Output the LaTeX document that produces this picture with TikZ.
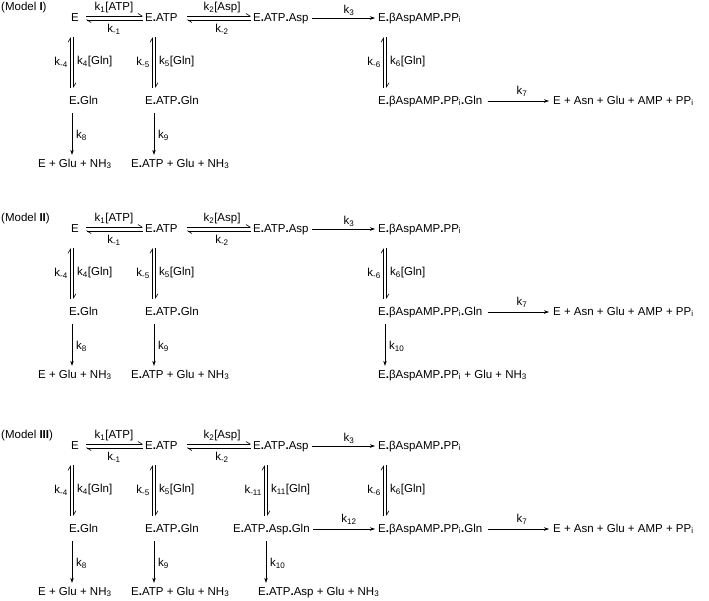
\documentclass[tikz,border=0pt]{standalone}
\usepackage{fontspec}
\setmainfont{Liberation Sans}
\usetikzlibrary{arrows.meta}
\newcommand\dt{\textbf{.}}
\newcommand\ks[1]{k\textsubscript{#1}}
\tikzset{
  tx/.style={inner sep=1pt,anchor=base west,text height=9pt,text depth=3pt,font=\fontsize{11.5}{13}\selectfont},
  lb/.style={inner sep=0pt,font=\fontsize{11.5}{13}\selectfont},
  fw/.style={line width=0.6pt,-{Straight Barb[left,length=4pt,width=5pt]}},
  one/.style={line width=0.6pt,-{Stealth[length=5pt,width=3.5pt]}},
  hz/.style={shorten <=6pt,shorten >=1pt},
  vt/.style={shorten <=12pt,shorten >=6pt},
  vtu/.style={shorten <=6pt,shorten >=12pt},
  dn/.style={shorten <=5pt,shorten >=2pt},
  rt/.style={shorten <=2pt,shorten >=2pt}
}
\newcommand\core[1]{%
  \node[lb,anchor=west] (lab) at (1,8) {(Model \textbf{#1})};
  \node[tx] (E) at (70,21) {E};
  \node[tx] (ATP) at (144,21) {E\dt ATP};
  \node[tx] (Asp) at (252,21) {E\dt ATP\dt Asp};
  \node[tx] (AMP) at (377,21) {E\dt βAspAMP\dt PP\textsubscript{i}};
  \node[tx] (Gln) at (68,104) {E\dt Gln};
  \node[tx] (ATPGln) at (144,104) {E\dt ATP\dt Gln};
  \node[tx] (AMPGln) at (377,104) {E\dt βAspAMP\dt PP\textsubscript{i}\dt Gln};
  \node[tx] (prod) at (552,104) {E + Asn + Glu + AMP + PP\textsubscript{i}};
  \node[tx] (b1) at (37,167) {E + Glu + NH\textsubscript{3}};
  \node[tx] (b2) at (130,167) {E\dt ATP + Glu + NH\textsubscript{3}};
  \coordinate (c1l) at (70.5,0); \coordinate (c1r) at (73.5,0);
  \coordinate (c2l) at (152.5,0); \coordinate (c2r) at (155.5,0);
  \coordinate (c4l) at (383.5,0); \coordinate (c4r) at (386.5,0);
  \coordinate (c1) at (72,0); \coordinate (c2) at (154,0); \coordinate (c4) at (385,0);
  % horizontal equilibria
  \draw[fw,hz] ([yshift=2pt]E.east) -- ([yshift=2pt]ATP.west);
  \draw[fw,hz,shorten <=1pt,shorten >=6pt] ([yshift=-2pt]ATP.west) -- ([yshift=-2pt]E.east);
  \draw[fw,shorten <=8pt,shorten >=1pt] ([yshift=2pt]ATP.east) -- ([yshift=2pt]Asp.west);
  \draw[fw,shorten <=1pt,shorten >=8pt] ([yshift=-2pt]Asp.west) -- ([yshift=-2pt]ATP.east);
  \node[lb] (l1) at (114,8) {\ks{1}[ATP]};
  \node[lb] (l1r) at (114,29) {\ks{-1}};
  \node[lb] (l2) at (222,8) {\ks{2}[Asp]};
  \node[lb] (l2r) at (222,29) {\ks{-2}};
  \draw[one,rt] (Asp.east) -- (AMP.west);
  \node[lb] (l3) at (349,10) {\ks{3}};
  % vertical equilibria
  \draw[fw,vtu] (c1l |- Gln.north) -- (c1l |- E.south);
  \draw[fw,vt] (c1r |- E.south) -- (c1r |- Gln.north);
  \draw[fw,vtu] (c2l |- ATPGln.north) -- (c2l |- ATP.south);
  \draw[fw,vt] (c2r |- ATP.south) -- (c2r |- ATPGln.north);
  \draw[fw,vtu] (c4l |- AMPGln.north) -- (c4l |- AMP.south);
  \draw[fw,vt] (c4r |- AMP.south) -- (c4r |- AMPGln.north);
  \node[lb,anchor=east] (l4r) at (68,62) {\ks{-4}};
  \node[lb,anchor=west] (l4) at (77,62) {\ks{4}[Gln]};
  \node[lb,anchor=east] (l5r) at (150,62) {\ks{-5}};
  \node[lb,anchor=west] (l5) at (159,62) {\ks{5}[Gln]};
  \node[lb,anchor=east] (l6r) at (381,62) {\ks{-6}};
  \node[lb,anchor=west] (l6) at (390,62) {\ks{6}[Gln]};
  % down arrows
  \draw[one,dn] (c1 |- Gln.south) -- (c1 |- b1.north);
  \draw[one,dn] (c2 |- ATPGln.south) -- (c2 |- b2.north);
  \node[lb,anchor=west] (l8) at (76,135) {\ks{8}};
  \node[lb,anchor=west] (l9) at (158,135) {\ks{9}};
  % k7
  \draw[one,shorten <=4pt,shorten >=3pt] (AMPGln.east) -- (prod.west);
  \node[lb] (l7) at (522,91) {\ks{7}};
}
\begin{document}
\begin{tikzpicture}[x=1pt,y=-1pt]
\useasboundingbox (0,0) rectangle (709,600);
\begin{scope}[name prefix=A-]
  \core{I}
\end{scope}
\begin{scope}[name prefix=B-,yshift=-211pt]
  \core{II}
  \node[tx] (b4) at (377,167) {E\dt βAspAMP\dt PP\textsubscript{i} + Glu + NH\textsubscript{3}};
  \draw[one,dn] (c4 |- AMPGln.south) -- (c4 |- b4.north);
  \node[lb,anchor=west] (l10) at (389,135) {\ks{10}};
\end{scope}
\begin{scope}[name prefix=C-,yshift=-428pt]
  \core{III}
  \node[tx] (AspGln) at (232,104) {E\dt ATP\dt Asp\dt Gln};
  \node[tx] (b3) at (257,167) {E\dt ATP\dt Asp + Glu + NH\textsubscript{3}};
  \coordinate (c3l) at (264.5,0); \coordinate (c3r) at (267.5,0); \coordinate (c3) at (266,0);
  \draw[fw,vtu] (c3l |- AspGln.north) -- (c3l |- Asp.south);
  \draw[fw,vt] (c3r |- Asp.south) -- (c3r |- AspGln.north);
  \node[lb,anchor=east] (l11r) at (262,62) {\ks{-11}};
  \node[lb,anchor=west] (l11) at (271,62) {\ks{11}[Gln]};
  \draw[one,rt] (AspGln.east) -- (AMPGln.west);
  \node[lb] (l12) at (349,91) {\ks{12}};
  \draw[one,dn] (c3 |- AspGln.south) -- (c3 |- b3.north);
  \node[lb,anchor=west] (l10) at (270,135) {\ks{10}};
\end{scope}
\end{tikzpicture}
\end{document}
